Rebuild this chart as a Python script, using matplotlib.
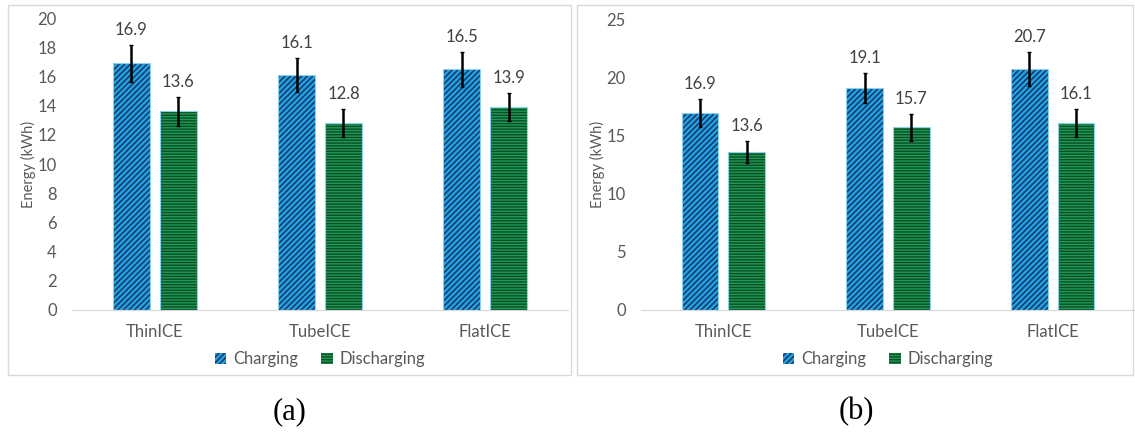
import numpy as np
import matplotlib
matplotlib.use("Agg")
import matplotlib.pyplot as plt
from matplotlib.patches import Rectangle, Patch

plt.rcParams['font.family'] = ['Lato', 'DejaVu Sans']
plt.rcParams['hatch.linewidth'] = 1.0

# energy per system (kWh) with error bar half-widths
systems = ["ThinICE", "TubeICE", "FlatICE"]

charge_a = [16.9, 16.1, 16.5]
charge_a_err = [1.25, 1.15, 1.2]
discharge_a = [13.6, 12.8, 13.9]
discharge_a_err = [1.0, 0.95, 0.97]

charge_b = [16.9, 19.1, 20.7]
charge_b_err = [1.2, 1.3, 1.43]
discharge_b = [13.6, 15.7, 16.1]
discharge_b_err = [0.95, 1.15, 1.2]

panel_labels = ["(a)", "(b)"]

TXT = "#595959"
BLUE = "#1fa0e0"
NAVY = "#1b2f5e"
GREEN = "#1f9a55"
DKGREEN = "#0b4d27"
OUTLINE = "#8fd0ea"
CH_HATCH = "/" * 6
DIS_HATCH = "-" * 6

fig = plt.figure(figsize=(11.35, 4.37), dpi=100)

# panel frames
for x0, x1 in [(8, 571), (577, 1133)]:
    fig.add_artist(Rectangle((x0 / 1135, 1 - 375 / 437), (x1 - x0) / 1135, 370 / 437,
                             transform=fig.transFigure, fill=False,
                             edgecolor="#d9d9d9", linewidth=1.0))


def hatched_bars(ax, x, vals, w, face, hatch, hcol):
    ax.bar(x, vals, w, color=face, hatch=hatch, edgecolor=hcol, linewidth=0, zorder=2)
    ax.bar(x, vals, w, fill=False, edgecolor=OUTLINE, linewidth=0.8, zorder=3)


def draw_panel(ax, ch, ch_err, dis, dis_err, ymax, step):
    x = np.arange(len(systems))
    w = 0.224
    off = 0.142
    hatched_bars(ax, x - off, ch, w, BLUE, CH_HATCH, NAVY)
    hatched_bars(ax, x + off, dis, w, GREEN, DIS_HATCH, DKGREEN)
    for xs, v, e in [(x - off, ch, ch_err), (x + off, dis, dis_err)]:
        ax.errorbar(xs, v, yerr=e, fmt="none", ecolor="black", elinewidth=1.8,
                    capsize=1.5, capthick=1, zorder=4)
        for xi, vi, ei in zip(xs, v, e):
            ax.annotate(f"{vi:.1f}", (xi, vi + ei), xytext=(0, 5),
                        textcoords="offset points", ha="center", va="bottom",
                        fontsize=12, color="#404040")
    ax.set_xlim(-0.5, len(systems) - 0.5)
    ax.set_ylim(0, ymax)
    ax.set_yticks(np.arange(0, ymax + 0.1, step))
    ax.set_xticks(x)
    ax.set_xticklabels(systems)
    ax.tick_params(axis="both", length=0, colors=TXT, labelsize=12, pad=10)
    ax.tick_params(axis="y", pad=11)
    for s in ["top", "right", "left"]:
        ax.spines[s].set_visible(False)
    ax.spines["bottom"].set_color("#d9d9d9")
    ax.set_ylabel("Energy (kWh)", color=TXT, fontsize=10.5, labelpad=1)
    handles = [Patch(facecolor=BLUE, hatch=CH_HATCH, edgecolor=NAVY, linewidth=0),
               Patch(facecolor=GREEN, hatch=DIS_HATCH, edgecolor=DKGREEN, linewidth=0)]
    leg = ax.legend(handles, ["Charging", "Discharging"], loc="upper center",
                    bbox_to_anchor=(0.5, -0.09), ncol=2, frameon=False,
                    fontsize=12, handlelength=0.7, handleheight=0.7,
                    handletextpad=0.4, columnspacing=1.4)
    for t in leg.get_texts():
        t.set_color(TXT)


ax1 = fig.add_axes([72 / 1135, 1 - 310 / 437, 496 / 1135, 292 / 437])
draw_panel(ax1, charge_a, charge_a_err, discharge_a, discharge_a_err, 20, 2)

ax2 = fig.add_axes([641 / 1135, 1 - 310 / 437, 494 / 1135, 291 / 437])
draw_panel(ax2, charge_b, charge_b_err, discharge_b, discharge_b_err, 25, 5)

for xc, lab in zip([290, 856], panel_labels):
    fig.text(xc / 1135, 1 - 412 / 437, lab, ha="center", va="center",
             fontsize=22, family="Liberation Serif", color="black")

fig.savefig("out.png", dpi=100)
